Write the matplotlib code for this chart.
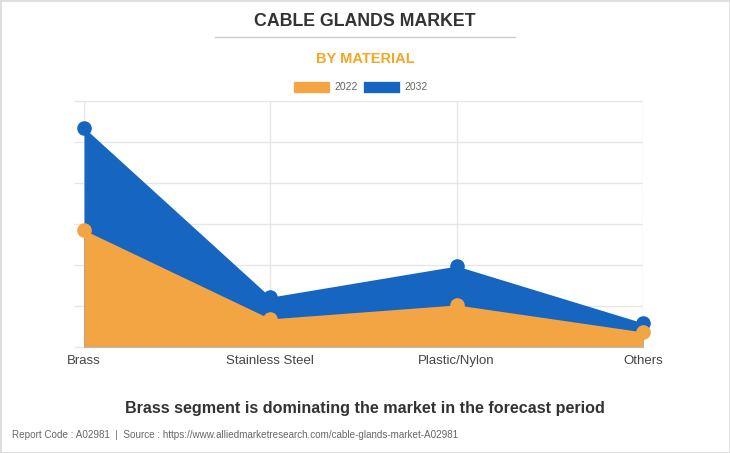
import matplotlib
matplotlib.use("Agg")
import matplotlib.pyplot as plt
from matplotlib.patches import Rectangle

categories = ["Brass", "Stainless Steel", "Plastic/Nylon", "Others"]
series_names = ["2022", "2032"]
values_2022 = [2.85, 0.68, 1.02, 0.36]
values_2032 = [5.35, 1.21, 1.97, 0.58]

orange = "#F3A443"
blue = "#1565C1"

plt.rcParams['font.family'] = ['Liberation Sans', 'DejaVu Sans']

fig = plt.figure(figsize=(7.3, 4.53), dpi=100)
fig.patch.set_facecolor("white")

ax = fig.add_axes([84/730, 1-346.7/453, (643-84)/730, (346.7-101)/453])
x = list(range(len(categories)))

ax.fill_between(x, 0, values_2032, color=blue, linewidth=0, zorder=2)
ax.plot(x, values_2032, color=blue, marker="o", markersize=9.5, linewidth=0, clip_on=False, zorder=4)
ax.fill_between(x, 0, values_2022, color=orange, linewidth=0, zorder=3)
ax.plot(x, values_2022, color=orange, marker="o", markersize=9.5, linewidth=0, clip_on=False, zorder=5)

ax.set_xlim(0, 3)
ax.set_ylim(0, 6)
ax.set_xticks(x)
ax.set_xticklabels(categories, fontsize=9.5, color="#444444")
ax.set_yticks(range(0, 7))
ax.set_yticklabels([])
ax.tick_params(axis="y", length=7, color="#e6e6e6", width=1)
ax.tick_params(axis="x", length=0, pad=6)
ax.grid(True, color="#e6e6e6", linewidth=1, zorder=0)
for s in ["top", "right", "left"]:
    ax.spines[s].set_visible(False)
ax.spines["bottom"].set_color("#bbbbbb")
ax.spines["bottom"].set_zorder(6)
ax.set_facecolor("white")

fig.text(365/730, 1-21/453, "CABLE GLANDS MARKET", ha="center", va="center",
         fontsize=12.8, fontweight="bold", color="#333333")
fig.add_artist(plt.Line2D([215/730, 515/730], [1-37/453, 1-37/453], color="#cccccc", linewidth=1))
fig.text(365/730, 1-59/453, "BY MATERIAL", ha="center", va="center",
         fontsize=10.5, fontweight="bold", color="#F5A623")

# legend
fig.add_artist(Rectangle((293/730, 1-93/453), 37/730, 12/453, transform=fig.transFigure,
                         facecolor=orange, edgecolor="white", linewidth=0.5))
fig.text(334/730, 1-87/453, series_names[0], ha="left", va="center", fontsize=7.5, color="#666666")
fig.add_artist(Rectangle((363/730, 1-93/453), 37/730, 12/453, transform=fig.transFigure,
                         facecolor=blue, edgecolor="white", linewidth=0.5))
fig.text(404/730, 1-87/453, series_names[1], ha="left", va="center", fontsize=7.5, color="#666666")

fig.text(365/730, 1-408/453, "Brass segment is dominating the market in the forecast period",
         ha="center", va="center", fontsize=11.6, fontweight="bold", color="#333333")
fig.text(12/730, 1-435/453,
         "Report Code : A02981  |  Source : https://www.alliedmarketresearch.com/cable-glands-market-A02981",
         ha="left", va="center", fontsize=7.1, color="#666666")

fig.add_artist(Rectangle((0, 0), 1, 1, transform=fig.transFigure, fill=False,
                         edgecolor="#dddddd", linewidth=2))

fig.savefig("out.png", dpi=100)
